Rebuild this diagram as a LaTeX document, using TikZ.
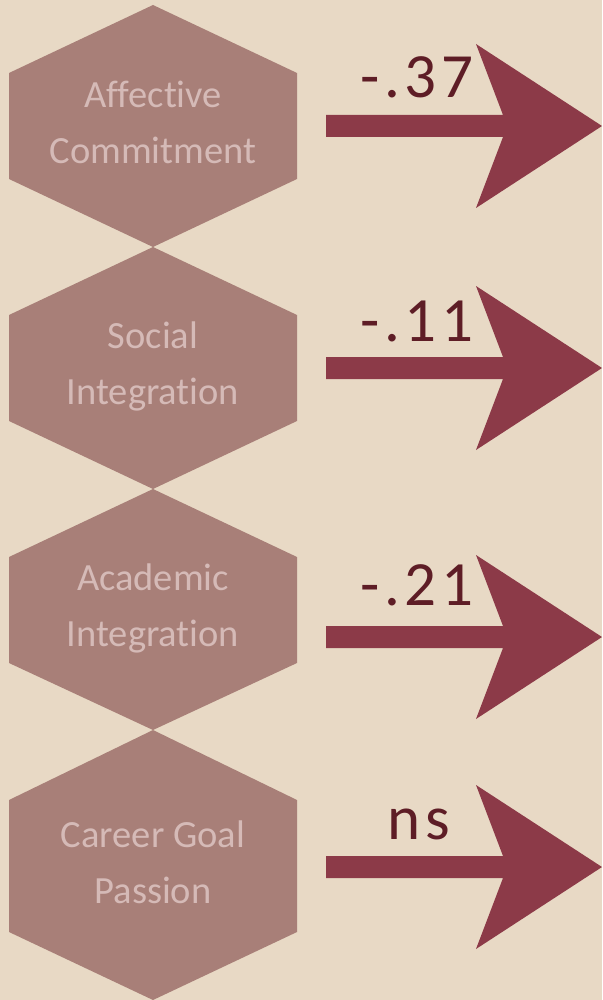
\documentclass[tikz,border=0pt]{standalone}
\usepackage{fontspec}
\setmainfont{Carlito}[Ligatures=NoCommon]
\newfontfamily\weightfont[LetterSpace=7]{Carlito}
\usepackage{tikz}

\definecolor{paper}{RGB}{232,217,197}
\definecolor{hexrose}{RGB}{168,127,120}
\definecolor{hextext}{RGB}{213,186,183}
\definecolor{arrowred}{RGB}{140,58,72}
\definecolor{weightred}{RGB}{94,29,38}

\tikzset{
  hexfill/.style={fill=hexrose},
  hexlabel/.style={text=hextext, align=center, inner sep=0pt, font=\fontsize{38.5}{56}\selectfont},
  arrowfill/.style={fill=arrowred},
  weight/.style={text=weightred, anchor=base, inner sep=0pt, font=\weightfont\fontsize{63}{70}\selectfont},
}

\begin{document}
\begin{tikzpicture}[x=1pt, y=-1pt]
        % Background
        \fill[paper] (0,0) rectangle (602,1000);
        \useasboundingbox (0,0) rectangle (602,1000);

        % Hexagons
        \fill[hexfill] (153,5) -- (297,73) -- (297,179) -- (153,247) -- (9,179) -- (9,73) -- cycle;
        \fill[hexfill] (153,247) -- (297,315) -- (297,421) -- (153,489) -- (9,421) -- (9,315) -- cycle;
        \fill[hexfill] (153,489) -- (297,557) -- (297,663) -- (153,730) -- (9,663) -- (9,557) -- cycle;
        \fill[hexfill] (153,730) -- (297,800) -- (297,932) -- (153,1000) -- (9,932) -- (9,800) -- cycle;

        % Nodes
        \node[hexlabel] (affective) at (153,122) {Affective\\Commitment};
        \node[hexlabel] (social) at (153,366) {Social\\Integration};
        \node[hexlabel] (academic) at (153,608) {Academic\\Integration};
        \node[hexlabel] (career) at (153,862) {Career Goal\\Passion};

        % Arrows
        \coordinate (tail1) at (326,126);
        \coordinate (tail2) at (326,368);
        \coordinate (tail3) at (326,637);
        \coordinate (tail4) at (326,867);
        \fill[arrowfill] (tail1) ++(0,-11) -- ++(177,0) -- ++(-27,-71) -- ++(126,82) -- ++(-126,82) -- ++(27,-71) -- ++(-177,0) -- cycle;
        \fill[arrowfill] (tail2) ++(0,-11) -- ++(177,0) -- ++(-27,-71) -- ++(126,82) -- ++(-126,82) -- ++(27,-71) -- ++(-177,0) -- cycle;
        \fill[arrowfill] (tail3) ++(0,-11) -- ++(177,0) -- ++(-27,-71) -- ++(126,82) -- ++(-126,82) -- ++(27,-71) -- ++(-177,0) -- cycle;
        \fill[arrowfill] (tail4) ++(0,-11) -- ++(177,0) -- ++(-27,-71) -- ++(126,82) -- ++(-126,82) -- ++(27,-71) -- ++(-177,0) -- cycle;

        % Weights
        \node[weight] (w1) at (417,98) {-.37};
        \node[weight] (w2) at (417,341) {-.11};
        \node[weight] (w3) at (417,605) {-.21};
        \node[weight] (w4) at (419,839) {ns};
    \end{tikzpicture}
\end{document}
